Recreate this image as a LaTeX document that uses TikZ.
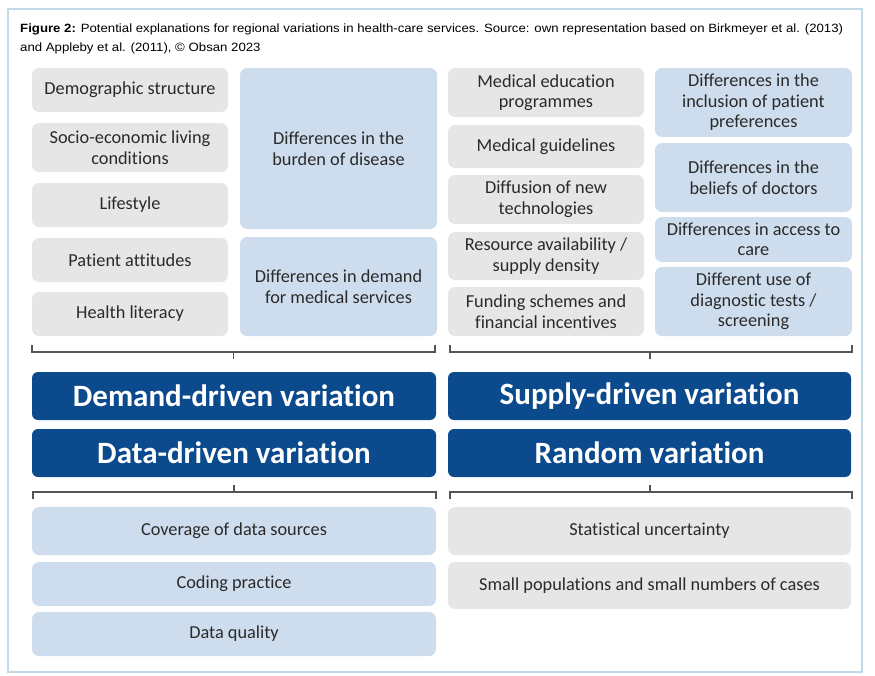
\documentclass[tikz,border=0pt]{standalone}
\usepackage{fontspec}
\setmainfont[Ligatures=NoCommon]{Carlito}
\newfontfamily\capfont[FakeStretch=1.1]{Liberation Sans}
\definecolor{gfill}{HTML}{E6E6E6}
\definecolor{bfill}{HTML}{CEDDEE}
\definecolor{dfill}{HTML}{0B4A8C}
\definecolor{framec}{HTML}{C2D9E8}
\definecolor{txt}{HTML}{2A2A2A}
\definecolor{bracec}{HTML}{555555}
\newcommand\Bx[7]{\node[#2, minimum width={(#5-#3)*1pt}, minimum height={(#6-#4)*1pt}] (#1) at ({(#3+#5)/2},{(#4+#6)/2}) {#7};}
\begin{document}
\begin{tikzpicture}[x=1pt,y=-1pt,
  base/.style={rounded corners=7pt, inner sep=0pt, align=center, text=txt, font=\fontsize{18.3}{20.5}\selectfont},
  gbox/.style={base, fill=gfill},
  bbox/.style={base, fill=bfill},
  dbox/.style={rounded corners=6pt, inner sep=0pt, fill=dfill, text=white, font=\fontsize{31}{34}\selectfont\bfseries},
  brace/.style={draw=bracec, line width=1.1pt}]
\useasboundingbox (0,0) rectangle (875,675);
\draw[framec, line width=1.3pt] (8,9) rectangle (862,672);
\node[anchor=north west, inner sep=0pt, align=left, text=black, font=\capfont\fontsize{12}{18.7}\selectfont] (cap) at (20,24)
 {\textbf{Figure 2:} Potential explanations for regional variations in health-care services. Source: own representation based on Birkmeyer et al. (2013)\\and Appleby et al. (2011), \textcopyright{} Obsan 2023};
% left upper
\Bx{d1}{gbox}{32}{68}{228}{112}{Demographic structure}
\Bx{d2}{gbox}{32}{123}{228}{172}{Socio-economic living\\conditions}
\Bx{d3}{gbox}{32}{183}{228}{227}{Lifestyle}
\Bx{d4}{gbox}{32}{238}{228}{282}{Patient attitudes}
\Bx{d5}{gbox}{32}{292}{228}{336}{Health literacy}
\Bx{e1}{bbox}{240}{68}{437}{229}{Differences in the\\burden of disease}
\Bx{e2}{bbox}{240}{237}{437}{336}{Differences in demand\\for medical services}
% right upper
\Bx{s1}{gbox}{448}{68}{644}{117}{Medical education\\programmes}
\Bx{s2}{gbox}{448}{125}{644}{168}{Medical guidelines}
\Bx{s3}{gbox}{448}{175}{644}{224}{Diffusion of new\\technologies}
\Bx{s4}{gbox}{448}{232}{644}{280}{Resource availability /\\supply density}
\Bx{s5}{gbox}{448}{287}{644}{336}{Funding schemes and\\financial incentives}
\Bx{t1}{bbox}{655}{68}{852}{137}{Differences in the\\inclusion of patient\\preferences}
\Bx{t2}{bbox}{655}{143}{852}{212}{Differences in the\\beliefs of doctors}
\Bx{t3}{bbox}{655}{217}{852}{262}{Differences in access to\\care}
\Bx{t4}{bbox}{655}{267}{852}{336}{Different use of\\diagnostic tests /\\screening}
% dark boxes
\Bx{dd}{dbox}{32}{372}{436}{420}{Demand-driven variation}
\Bx{sd}{dbox}{448}{372}{851}{420}{Supply-driven variation}
\Bx{ad}{dbox}{32}{429}{436}{477}{Data-driven variation}
\Bx{rv}{dbox}{448}{429}{851}{477}{Random variation}
% bottom
\Bx{c1}{bbox}{32}{507}{436}{555}{Coverage of data sources}
\Bx{c2}{bbox}{32}{562}{436}{606}{Coding practice}
\Bx{c3}{bbox}{32}{612}{436}{656}{Data quality}
\Bx{r1}{gbox}{448}{507}{851}{555}{Statistical uncertainty}
\Bx{r2}{gbox}{448}{562}{851}{609}{Small populations and small numbers of cases}
% braces
\coordinate (ba) at (32,345); \coordinate (bb) at (435,345); \coordinate (bm) at (233.5,359);
\coordinate (ca) at (450,345); \coordinate (cb) at (852,345); \coordinate (cm) at (650,359);
\draw[brace] (ba) -- (32,352) -- (435,352) -- (bb);
\draw[brace] (233.5,352) -- (bm);
\draw[brace] (ca) -- (450,352) -- (852,352) -- (cb);
\draw[brace] (650,352) -- (cm);
\coordinate (la) at (33,499); \coordinate (lb) at (436,499); \coordinate (lm) at (234,485);
\coordinate (ra) at (450,499); \coordinate (rb) at (852,499); \coordinate (rm) at (650,485);
\draw[brace] (la) -- (33,492) -- (436,492) -- (lb);
\draw[brace] (234,492) -- (lm);
\draw[brace] (ra) -- (450,492) -- (852,492) -- (rb);
\draw[brace] (650,492) -- (rm);
\end{tikzpicture}
\end{document}
